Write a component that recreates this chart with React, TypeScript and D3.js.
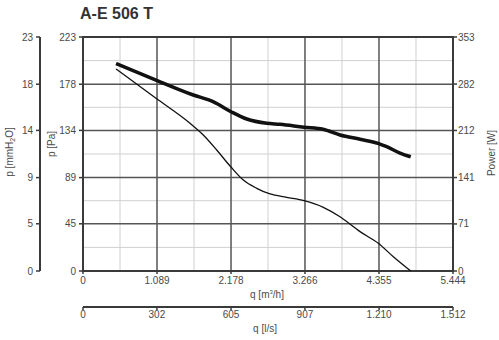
import * as d3 from "d3";

// Flow q in m3/h, static pressure in Pa, absorbed power in W
const pressureQ = [486, 1074, 1574, 1770, 1967, 2173, 2359, 2556, 2752, 2997, 3252, 3536, 3782, 4076, 4345, 4566, 4822];
const pressurePa = [192.5, 164.6, 140.8, 129.6, 115.3, 99.4, 86.7, 78.8, 73.4, 70.2, 67, 60.7, 51.7, 37.5, 26.4, 13.6, 0];

const powerQ = [486, 1074, 1623, 1913, 2178, 2409, 2703, 2899, 3252, 3531, 3782, 4076, 4341, 4469, 4664, 4822];
const powerW = [313, 288, 265.5, 255.4, 240.3, 229.3, 222.8, 221.3, 216.8, 213.8, 205.2, 198.7, 192.6, 187.5, 178, 172.4];

const qTicks = [0, 1089, 2178, 3266, 4355, 5444]; // m3/h
const lsTicks = [0, 302, 605, 907, 1210, 1512]; // l/s
const paTicks = [0, 45, 89, 134, 178, 223];
const wTicks = [0, 71, 141, 212, 282, 353];
const MM_PER_PA = 1 / 9.81;

const W = 499;
const H = 340;
const L = 83;
const R = 453;
const T = 37;
const B = 271;

const fmt = d3.formatLocale({ decimal: ",", thousands: ".", grouping: [3], currency: ["", ""] }).format(",");
const FONT = "Liberation Sans, Arial, sans-serif";
const AXIS = "#3a3a3a";
const TXT = "#4a4a4a";

export default function App() {
  const x = d3.scaleLinear().domain([0, 5444]).range([L, R]);
  const xLs = d3.scaleLinear().domain([0, 1512]).range([L, R]);
  const yPa = d3.scaleLinear().domain([0, 223]).range([B, T]);
  const yMm = d3.scaleLinear().domain([0, 223 * MM_PER_PA]).range([B, T]);
  const yW = d3.scaleLinear().domain([0, 353]).range([B, T]);

  const mmTicks = paTicks.map((p) => p * MM_PER_PA);

  const pLine = d3
    .line<number>()
    .x((_, i) => x(pressureQ[i]))
    .y((d) => yPa(d))
    .curve(d3.curveMonotoneX);
  const wLine = d3
    .line<number>()
    .x((_, i) => x(powerQ[i]))
    .y((d) => yW(d))
    .curve(d3.curveMonotoneX);

  const half = (arr: number[]) => arr.slice(1).map((v, i) => (v + arr[i]) / 2);
  const minorX = half(qTicks);
  const minorY = half(paTicks);

  return (
    <svg width={W} height={H} style={{ position: "absolute", left: 0, top: 0, background: "#fff" }} fontFamily={FONT}>
      <text x={80} y={19} fontSize={16} fontWeight="bold" fill="#333">
        A-E 506 T
      </text>

      {/* minor grid */}
      {minorX.map((v, i) => (
        <line key={"mx" + i} x1={x(v)} x2={x(v)} y1={T} y2={B} stroke="#d0d0d0" strokeWidth={1} />
      ))}
      {minorY.map((v, i) => (
        <line key={"my" + i} x1={L} x2={R} y1={yPa(v)} y2={yPa(v)} stroke="#d0d0d0" strokeWidth={1} />
      ))}
      {/* major grid */}
      {qTicks.map((v, i) => (
        <line key={"gx" + i} x1={x(v)} x2={x(v)} y1={T} y2={B} stroke="#555" strokeWidth={1.5} />
      ))}
      {paTicks.map((v, i) => (
        <line key={"gy" + i} x1={L} x2={R} y1={yPa(v)} y2={yPa(v)} stroke="#555" strokeWidth={1.5} />
      ))}

      {/* frame */}
      <rect x={L} y={T} width={R - L} height={B - T} fill="none" stroke={AXIS} strokeWidth={2} />

      {/* left mmH2O axis */}
      <line x1={40} x2={40} y1={T} y2={B} stroke={AXIS} strokeWidth={2} />
      {mmTicks.map((v, i) => (
        <g key={"mm" + i}>
          <line x1={36} x2={40} y1={yMm(v)} y2={yMm(v)} stroke={AXIS} strokeWidth={1.5} />
          <text x={33} y={yMm(v) + 3.5} fontSize={10} textAnchor="end" fill={TXT}>
            {Math.round(v)}
          </text>
        </g>
      ))}
      <text transform={`translate(13,152) rotate(-90)`} fontSize={10} textAnchor="middle" fill={TXT}>
        p [mmH<tspan fontSize={7} dy={2}>2</tspan>
        <tspan dy={-2}>O]</tspan>
      </text>

      {/* left Pa axis */}
      {paTicks.map((v, i) => (
        <g key={"pa" + i}>
          <line x1={79} x2={L} y1={yPa(v)} y2={yPa(v)} stroke={AXIS} strokeWidth={1.5} />
          <text x={76} y={yPa(v) + 3.5} fontSize={10} textAnchor="end" fill={TXT}>
            {v}
          </text>
        </g>
      ))}
      <text transform={`translate(55,144) rotate(-90)`} fontSize={10} textAnchor="middle" fill={TXT}>
        p [Pa]
      </text>

      {/* right power axis */}
      {wTicks.map((v, i) => (
        <g key={"w" + i}>
          <line x1={R} x2={R + 4} y1={yW(v)} y2={yW(v)} stroke={AXIS} strokeWidth={1.5} />
          <text x={R + 5} y={yW(v) + 3.5} fontSize={10} fill={TXT}>
            {v}
          </text>
        </g>
      ))}
      <text transform={`translate(495,153) rotate(-90)`} fontSize={10} textAnchor="middle" fill={TXT}>
        Power [W]
      </text>

      {/* bottom m3/h axis */}
      {qTicks.map((v, i) => (
        <g key={"q" + i}>
          <line x1={x(v)} x2={x(v)} y1={B} y2={B + 3} stroke={AXIS} strokeWidth={1.5} />
          <text x={x(v)} y={284} fontSize={10} textAnchor="middle" fill={TXT}>
            {fmt(v)}
          </text>
        </g>
      ))}
      <text x={267} y={298} fontSize={10} textAnchor="middle" fill={TXT}>
        q [m<tspan fontSize={6} dy={-4}>3</tspan>
        <tspan dy={4}>/h]</tspan>
      </text>

      {/* bottom l/s axis */}
      <line x1={L} x2={R} y1={307} y2={307} stroke={AXIS} strokeWidth={2} />
      {lsTicks.map((v, i) => (
        <g key={"ls" + i}>
          <line x1={xLs(v)} x2={xLs(v)} y1={307} y2={310} stroke={AXIS} strokeWidth={1.5} />
          <text x={xLs(v)} y={318} fontSize={10} textAnchor="middle" fill={TXT}>
            {fmt(v)}
          </text>
        </g>
      ))}
      <text x={265} y={332} fontSize={10} textAnchor="middle" fill={TXT}>
        q [l/s]
      </text>

      {/* curves */}
      <path d={pLine(pressurePa) ?? ""} fill="none" stroke="#111" strokeWidth={1.3} />
      <path d={wLine(powerW) ?? ""} fill="none" stroke="#111" strokeWidth={3.5} />
    </svg>
  );
}
